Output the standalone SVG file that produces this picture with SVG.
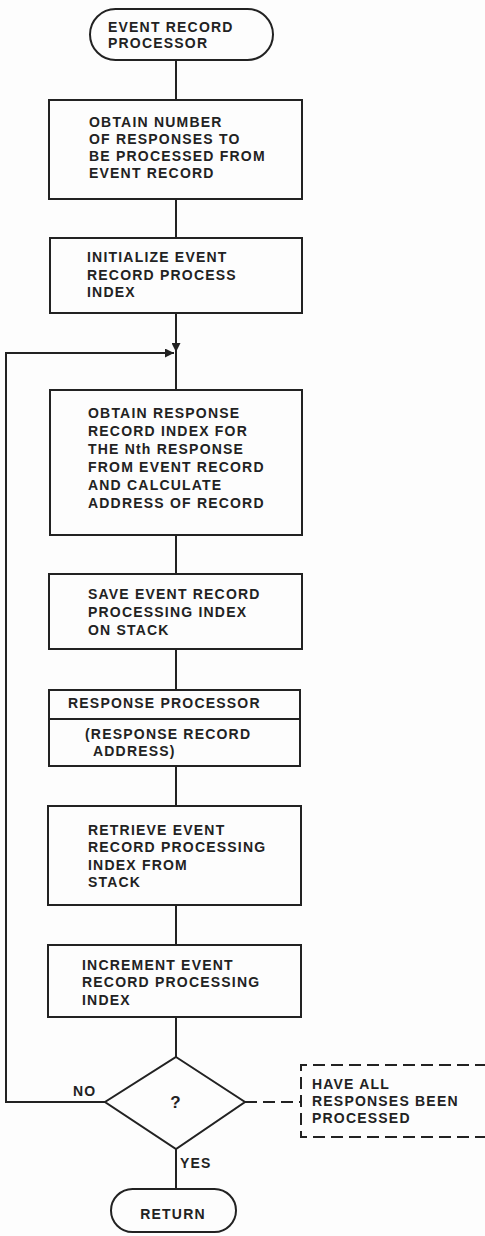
<svg xmlns="http://www.w3.org/2000/svg" width="485" height="1236" viewBox="0 0 485 1236">
<defs>
<marker id="arr" viewBox="0 0 10 10" refX="10" refY="5" markerWidth="9" markerHeight="9" markerUnits="userSpaceOnUse" orient="auto">
<path d="M0,0 L10,5 L0,10 Z" fill="#222"/>
</marker>
<style>
.n rect, path.shape { fill: #fdfdfd; stroke: #222; stroke-width: 2; }
.c line, .c path { stroke: #222; stroke-width: 2; fill: none; }
.dash { stroke-dasharray: 12 6; }
text { font-family: "Liberation Sans", Arial, sans-serif; font-weight: bold; font-size: 14px; letter-spacing: 1.2px; fill: #222; }
.mid { text-anchor: middle; }
</style>
</defs>
<rect x="0" y="0" width="485" height="1236" fill="#fdfdfd"/>
<g class="c" id="connectors">
<line x1="176" y1="60" x2="176" y2="100"/>
<line x1="176" y1="199" x2="176" y2="238"/>
<line x1="176" y1="313" x2="176" y2="352" marker-end="url(#arr)"/>
<line x1="176" y1="352" x2="176" y2="390"/>
<path d="M105,1102 H6 V353 H174" marker-end="url(#arr)"/>
<line x1="176" y1="535" x2="176" y2="574"/>
<line x1="176" y1="649" x2="176" y2="690"/>
<line x1="176" y1="766" x2="176" y2="806"/>
<line x1="176" y1="905" x2="176" y2="945"/>
<line x1="176" y1="1017" x2="176" y2="1057"/>
<line x1="176" y1="1149" x2="176" y2="1189"/>
<line class="dash" x1="245" y1="1102" x2="301" y2="1102"/>
</g>
<g class="n" id="start">
<rect x="90" y="9" width="183" height="51" rx="25.5"/>
<text x="108" y="32">EVENT RECORD</text>
<text x="108" y="48">PROCESSOR</text>
</g>
<g class="n" id="obtain-number">
<rect x="49" y="100" width="253" height="99"/>
<text x="89" y="127">OBTAIN NUMBER</text>
<text x="89" y="144">OF RESPONSES TO</text>
<text x="89" y="161">BE PROCESSED FROM</text>
<text x="89" y="178">EVENT RECORD</text>
</g>
<g class="n" id="initialize">
<rect x="50" y="238" width="252" height="75"/>
<text x="87" y="262">INITIALIZE EVENT</text>
<text x="87" y="280">RECORD PROCESS</text>
<text x="87" y="297">INDEX</text>
</g>
<g class="n" id="obtain-response">
<rect x="50" y="390" width="252" height="145"/>
<text x="88" y="418">OBTAIN RESPONSE</text>
<text x="88" y="436">RECORD INDEX FOR</text>
<text x="88" y="454">THE Nth RESPONSE</text>
<text x="88" y="472">FROM EVENT RECORD</text>
<text x="88" y="490">AND CALCULATE</text>
<text x="88" y="508">ADDRESS OF RECORD</text>
</g>
<g class="n" id="save">
<rect x="49" y="574" width="253" height="75"/>
<text x="88" y="599">SAVE EVENT RECORD</text>
<text x="88" y="617">PROCESSING INDEX</text>
<text x="88" y="635">ON STACK</text>
</g>
<g class="n" id="response-processor">
<rect x="49" y="690" width="251" height="76"/>
<line x1="49" y1="719" x2="300" y2="719" stroke="#222" stroke-width="2"/>
<text x="68" y="708">RESPONSE PROCESSOR</text>
<text x="85" y="739">(RESPONSE RECORD</text>
<text x="93" y="756">ADDRESS)</text>
</g>
<g class="n" id="retrieve">
<rect x="48" y="806" width="253" height="99"/>
<text x="88" y="835">RETRIEVE EVENT</text>
<text x="88" y="852">RECORD PROCESSING</text>
<text x="88" y="870">INDEX FROM</text>
<text x="88" y="887">STACK</text>
</g>
<g class="n" id="increment">
<rect x="48" y="945" width="253" height="72"/>
<text x="82" y="970">INCREMENT EVENT</text>
<text x="82" y="987">RECORD PROCESSING</text>
<text x="82" y="1005">INDEX</text>
</g>
<g id="decision">
<path class="shape" d="M176,1057 L245,1102 L176,1149 L105,1102 Z"/>
<text class="mid" x="176" y="1108" style="font-size:17px">?</text>
<text x="73" y="1096">NO</text>
<text x="180" y="1168">YES</text>
</g>
<g id="annotation">
<path class="dash" d="M487,1065 H301 V1137 H487" fill="none" stroke="#222" stroke-width="2"/>
<text x="312" y="1089">HAVE ALL</text>
<text x="312" y="1106">RESPONSES BEEN</text>
<text x="312" y="1123">PROCESSED</text>
</g>
<g class="n" id="return">
<rect x="111" y="1189" width="125" height="43" rx="21.5"/>
<text class="mid" x="173" y="1219">RETURN</text>
</g>
</svg>
